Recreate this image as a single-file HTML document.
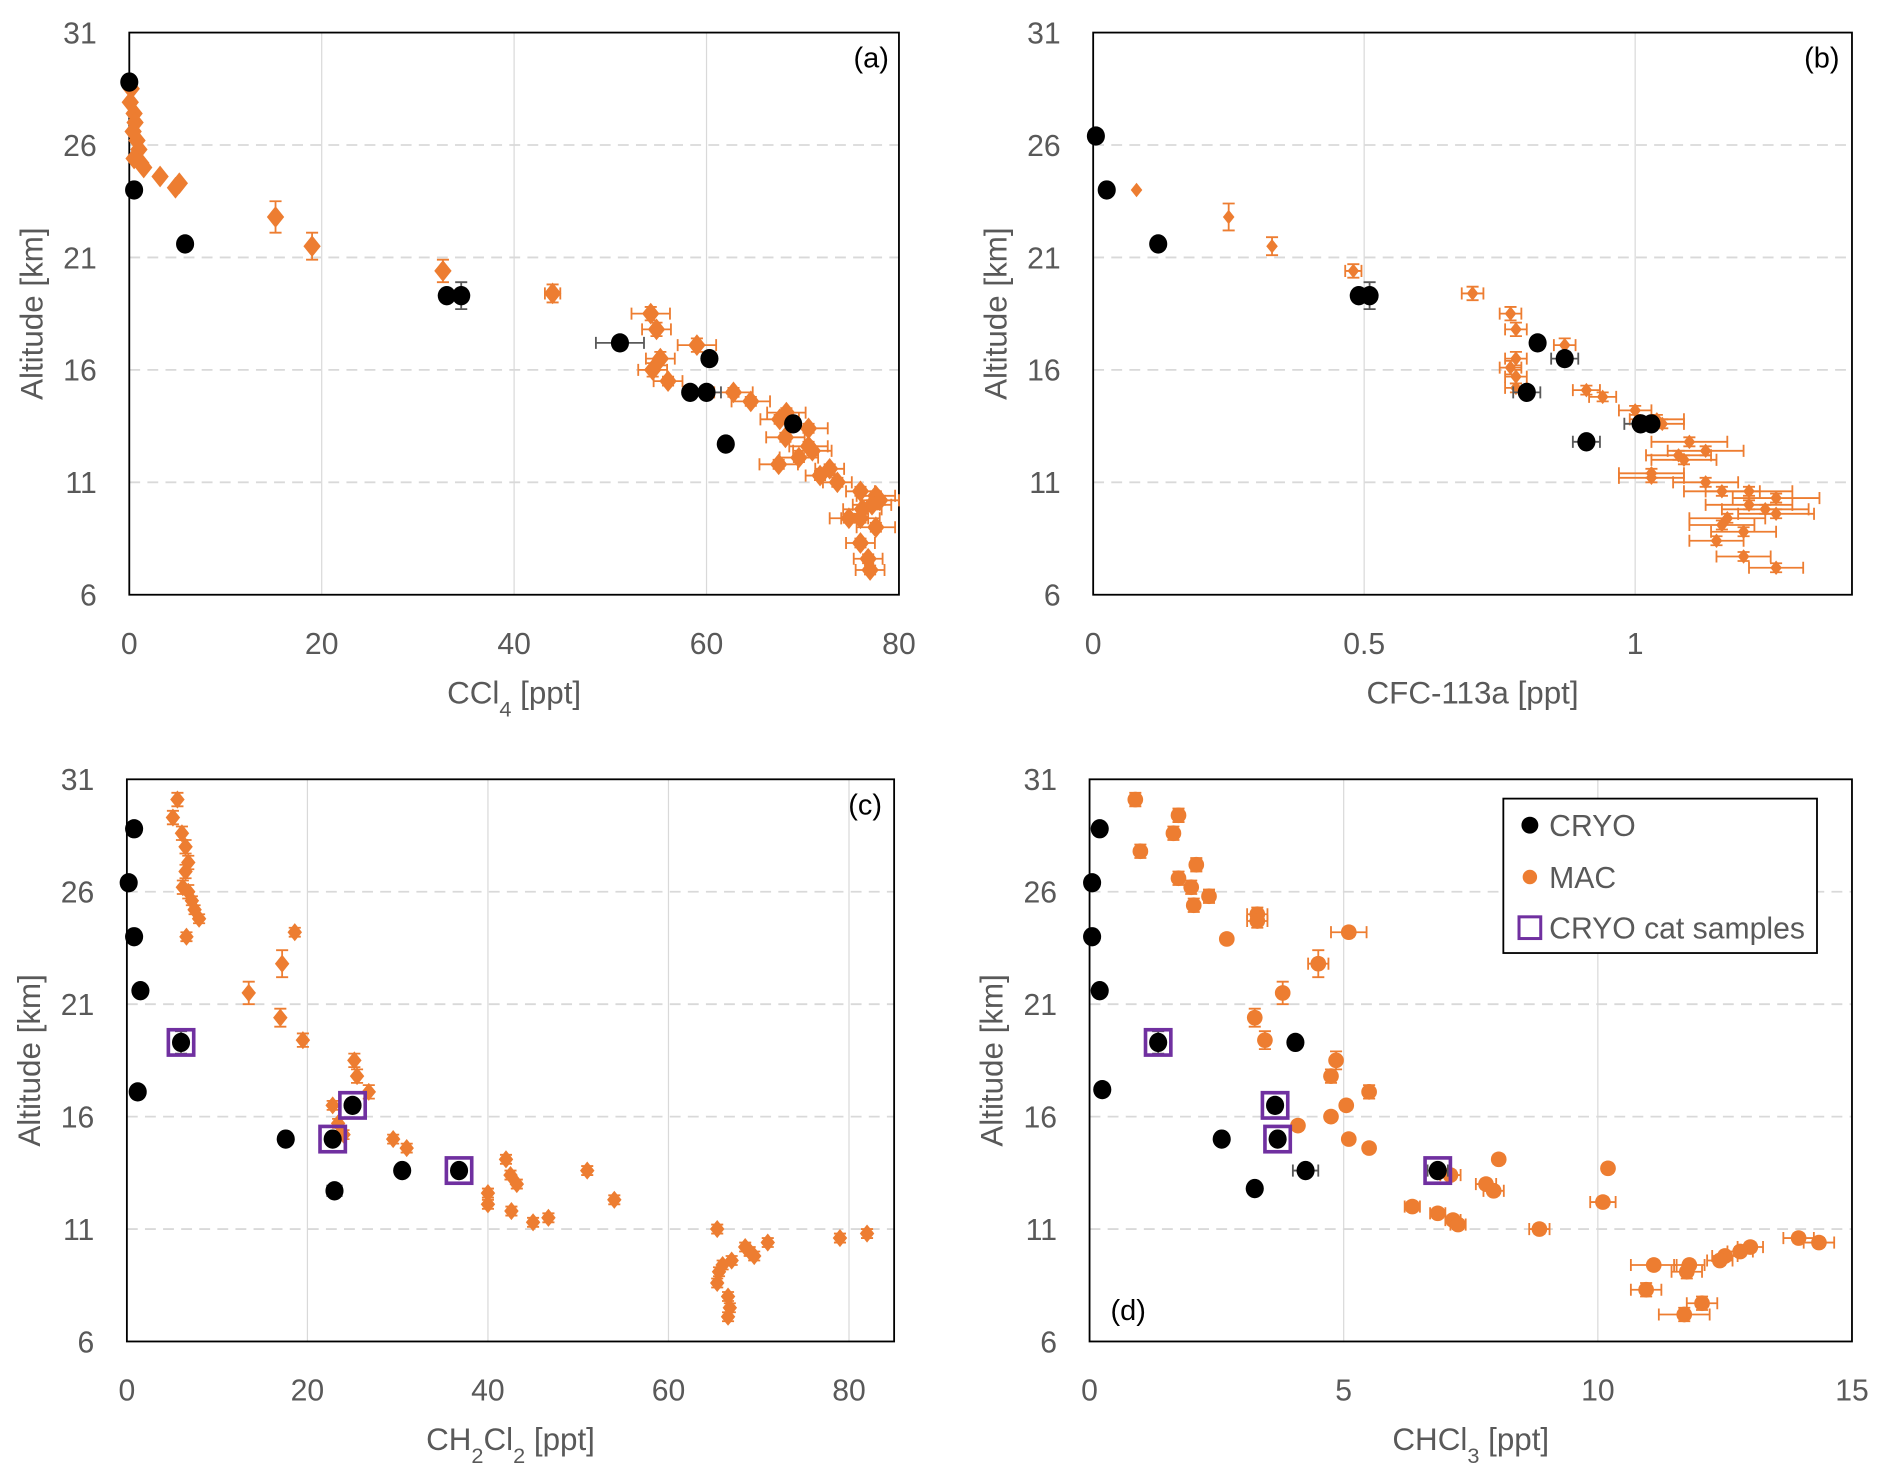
<!DOCTYPE html>
<html><head><meta charset="utf-8"><style>
html,body{margin:0;padding:0;background:#fff;}
svg{display:block;font-family:"Liberation Sans","DejaVu Sans",sans-serif;}
</style></head><body>
<svg id="fig" width="1892" height="1479" viewBox="0 0 1568 1226" xmlns="http://www.w3.org/2000/svg"></svg>
<script>
// ---------- DATA ----------
const yTicks = [6, 11, 16, 21, 26, 31];
const xTicksA = [0, 20, 40, 60, 80];
const xTicksB = [0, 0.5, 1];
const xTicksC = [0, 20, 40, 60, 80];
const xTicksD = [0, 5, 10, 15];
const xTickLabelsB = ["0", "0.5", "1"];

// Panel (a) CCl4
const cryoA_x = [0, 0.5, 5.8, 33, 34.5, 51, 60.3, 58.3, 60, 69, 62];
const cryoA_y = [28.8, 24, 21.6, 19.3, 19.3, 17.2, 16.5, 15, 15, 13.6, 12.7];
const cryoA_xe = [0, 0, 0, 0, 0, 2.5, 0, 0, 1.5, 0, 0];
const cryoA_ye = [0, 0, 0, 0, 0.6, 0, 0, 0, 0, 0, 0];
const macA_x = [0.2,0.1,0.5,0.6,0.4,0.8,1,0.5,1.2,1.5,3.2,4.8,5.2,15.2,19,32.6,44,54.2,54.8,59,55.2,54.4,56,62.8,64.6,68.3,67.6,70.6,68.2,70.6,71,69.6,67.5,72.8,71.8,73.6,76,77.6,78,77.2,76.2,76,74.8,77.6,76,76.8,77];
const macA_y = [28.5,27.9,27.4,27,26.6,26.2,25.8,25.4,25.2,25,24.6,24.1,24.3,22.8,21.5,20.4,19.4,18.5,17.8,17.1,16.5,16,15.5,15,14.6,14.1,13.8,13.4,13,12.6,12.4,12.1,11.8,11.6,11.3,11,10.6,10.4,10.2,10,9.8,9.4,9.4,9,8.3,7.6,7.1];
const macA_xe = [0,0,0,0,0,0,0,0,0,0,0,0,0,0,0,0,0.8,2,1.5,2,1.5,1.5,1.5,2,2,2,2,2,2,2,2,2,2,1.5,1.5,1.5,1.5,2,2,2,2,2,2,2,1.5,1.5,1.5];
const macA_ye = [0,0,0,0,0,0,0,0,0,0,0,0,0,0.7,0.6,0.5,0.4,0.3,0.3,0.3,0.3,0.3,0.2,0.2,0.2,0.2,0.2,0.2,0.2,0.2,0.2,0.2,0.2,0.2,0.2,0.2,0.2,0.2,0.2,0.2,0.2,0.2,0.2,0.2,0.2,0.2,0.2];

// Panel (b) CFC-113a
const cryoB_x = [0.005, 0.025, 0.12, 0.49, 0.51, 0.82, 0.87, 0.8, 0.91, 1.01, 1.03];
const cryoB_y = [26.4, 24, 21.6, 19.3, 19.3, 17.2, 16.5, 15, 12.8, 13.6, 13.6];
const cryoB_xe = [0, 0, 0, 0, 0, 0, 0.025, 0.025, 0.025, 0.03, 0];
const cryoB_ye = [0, 0, 0, 0, 0.6, 0, 0, 0, 0, 0, 0];
const macB_x = [0.08,0.25,0.33,0.48,0.7,0.77,0.78,0.87,0.78,0.77,0.78,0.78,0.91,0.94,1,1.05,1.04,1.1,1.13,1.08,1.09,1.03,1.03,1.13,1.16,1.21,1.26,1.21,1.24,1.26,1.17,1.16,1.2,1.15,1.2,1.26];
const macB_y = [24,22.8,21.5,20.4,19.4,18.5,17.8,17.1,16.5,16.1,15.7,15.2,15.1,14.8,14.2,13.6,13.8,12.8,12.4,12.2,12,11.4,11.2,11,10.6,10.6,10.3,10,9.8,9.6,9.4,9.1,8.8,8.4,7.7,7.2];
const macB_xe = [0,0,0,0.015,0.02,0.02,0.02,0.02,0.02,0.02,0.02,0.02,0.025,0.025,0.03,0.04,0.05,0.07,0.07,0.06,0.06,0.06,0.06,0.06,0.07,0.08,0.08,0.08,0.08,0.07,0.07,0.06,0.06,0.05,0.05,0.05];
const macB_ye = [0,0.6,0.4,0.3,0.3,0.3,0.3,0.3,0.3,0.3,0.3,0.2,0.2,0.2,0.2,0.2,0.2,0.2,0.2,0.2,0.2,0.2,0.2,0.2,0.2,0.2,0.2,0.2,0.2,0.2,0.2,0.2,0.2,0.2,0.2,0.2];

// Panel (c) CH2Cl2
const cryoC_x = [0.8, 0.2, 0.8, 1.5, 1.2, 17.6, 23, 30.5, 6, 25, 22.8, 36.8];
const cryoC_y = [28.8, 26.4, 24, 21.6, 17.1, 15, 12.7, 13.6, 19.3, 16.5, 15, 13.6];
const cryoC_xe = [0, 0, 0, 0, 0, 0, 0.8, 0, 0, 0, 0, 0];
const cryoC_ye = [0.3, 0, 0, 0, 0, 0, 0, 0, 0.5, 0, 0, 0];
const catC_x = [6, 25, 22.8, 36.8];
const catC_y = [19.3, 16.5, 15, 13.6];
const macC_x = [5.6,5.1,6.1,6.5,6.8,6.5,6.2,6.8,7.2,7.5,8,6.6,18.6,17.2,13.5,17,19.5,25.2,25.5,26.8,22.8,23.4,24,29.5,31,42,42.5,43.2,51,40,54,40,42.6,46.7,45,65.4,82,79,71,68.5,69,69.5,67,66,65.6,65.4,66.6,66.8,66.6];
const macC_y = [30.1,29.3,28.6,28,27.3,26.9,26.2,26,25.6,25.2,24.8,24,24.2,22.8,21.5,20.4,19.4,18.5,17.8,17.1,16.5,15.7,15.2,15,14.6,14.1,13.4,13,13.6,12.6,12.3,12.1,11.8,11.5,11.3,11,10.8,10.6,10.4,10.2,10,9.8,9.6,9.4,9.1,8.6,8,7.5,7.1];
const macC_ye = [0.3,0.3,0.3,0.3,0.3,0.3,0.3,0.3,0.2,0.2,0.2,0.2,0.2,0.6,0.5,0.4,0.3,0.3,0.3,0.3,0.2,0.2,0.2,0.2,0.2,0.2,0.2,0.2,0.2,0.2,0.2,0.2,0.2,0.2,0.2,0.2,0.2,0.2,0.2,0.2,0.2,0.2,0.2,0.2,0.2,0.2,0.2,0.2,0.2];

// Panel (d) CHCl3
const cryoD_x = [0.2, 0.05, 0.05, 0.2, 0.25, 2.6, 3.25, 4.25, 4.05, 1.35, 3.65, 3.7, 6.85];
const cryoD_y = [28.8, 26.4, 24, 21.6, 17.2, 15, 12.8, 13.6, 19.3, 19.3, 16.5, 15, 13.6];
const cryoD_xe = [0, 0, 0, 0, 0, 0, 0.1, 0.25, 0, 0, 0, 0, 0.2];
const cryoD_ye = [0, 0, 0, 0, 0, 0, 0, 0, 0, 0.5, 0, 0, 0];
const catD_x = [1.35, 3.65, 3.7, 6.85];
const catD_y = [19.3, 16.5, 15, 13.6];
const macD_x = [0.9,1.75,1.65,1,2.1,1.75,2,2.35,2.05,3.3,3.3,5.1,2.7,4.5,3.8,3.25,3.45,4.85,4.75,5.5,5.05,4.75,4.1,5.1,5.5,8.05,10.2,7.1,7.8,7.95,10.1,6.35,6.85,7.15,7.25,8.85,13.95,14.35,13,12.8,12.5,12.4,11.1,11.8,11.75,10.95,12.05,11.7];
const macD_y = [30.1,29.4,28.6,27.8,27.2,26.6,26.2,25.8,25.4,25,24.7,24.2,23.9,22.8,21.5,20.4,19.4,18.5,17.8,17.1,16.5,16,15.6,15,14.6,14.1,13.7,13.4,13,12.7,12.2,12,11.7,11.4,11.2,11,10.6,10.4,10.2,10,9.8,9.6,9.4,9.4,9.1,8.3,7.7,7.2];
const macD_xe = [0,0,0,0,0.1,0,0,0.1,0,0.2,0.2,0.35,0,0.2,0,0,0,0,0,0,0,0,0,0,0,0,0,0.2,0.2,0.2,0.25,0.15,0.15,0.15,0.15,0.2,0.3,0.3,0.25,0.25,0.25,0.25,0.45,0.3,0.3,0.3,0.3,0.5];
const macD_ye = [0.3,0.3,0.3,0.3,0.3,0.3,0.3,0.3,0.3,0.3,0.3,0.2,0.2,0.6,0.5,0.4,0.4,0.4,0.3,0.3,0.2,0.2,0.2,0.2,0.2,0.2,0.2,0.2,0.2,0.2,0.2,0.2,0.2,0.2,0.2,0.2,0.2,0.2,0.2,0.2,0.2,0.2,0.2,0.2,0.3,0.3,0.3,0.3];

// ---------- DRAW ----------
const NS = "http://www.w3.org/2000/svg";
const svg = document.getElementById("fig");
const ORANGE = "#ED7D31", PURPLE = "#7030A0", GREY = "#595959";
function mk(tag, attrs, parent) {
  const e = document.createElementNS(NS, tag);
  for (const k in attrs) e.setAttribute(k, attrs[k]);
  (parent || svg).appendChild(e);
  return e;
}
function panel(p) {
  const g = mk("g", {});
  
  
  const sx = v => p.L + (v - p.xmin) / (p.xmax - p.xmin) * (p.R - p.L);
  const sy = v => p.B - (v - 6) / 25 * (p.B - p.T);
  p.xticks.forEach((t, i) => {
    if (t > p.xmin && t < p.xmax) {
      const l = mk("line", {x1: sx(t), x2: sx(t), y1: p.T, y2: p.B, stroke: "#d9d9d9", "stroke-width": 1}, g);
      
      
    }
    const tx = mk("text", {x: sx(t), y: p.B + 49, "text-anchor": "middle", "font-size": 25, fill: GREY}, g);
    tx.textContent = p.xlabels ? p.xlabels[i] : String(t);
    
    
  });
  yTicks.forEach(t => {
    if (t > 6 && t < 31) {
      const l = mk("line", {x1: p.L, x2: p.R, y1: sy(t), y2: sy(t), stroke: "#d9d9d9", "stroke-width": 1.5, "stroke-dasharray": "9,6"}, g);
      
      
    }
    const tx = mk("text", {x: p.L - 27, y: sy(t) + 9, "text-anchor": "end", "font-size": 25, fill: GREY}, g);
    tx.textContent = String(t);
    
    
  });
  const fr = mk("rect", {x: p.L, y: p.T, width: p.R - p.L, height: p.B - p.T, fill: "none", stroke: "#000", "stroke-width": 1.5}, g);
  
  
  const yt = mk("text", {x: 0, y: 0, transform: `translate(${p.L - 72},${(p.T + p.B) / 2}) rotate(-90)`, "text-anchor": "middle", "font-size": 26, fill: GREY}, g);
  yt.textContent = "Altitude [km]";
  
  
  const xt = mk("text", {x: (p.L + p.R) / 2, y: p.B + 90, "text-anchor": "middle", "font-size": 26, fill: GREY}, g);
  xt.innerHTML = p.xtitle;
  
  
  const pl = mk("text", {x: p.lx, y: p.ly, "text-anchor": "middle", "font-size": 24, fill: "#000"}, g);
  pl.textContent = "(" + p.id + ")";
  
  

  function errbars(xs, ys, xe, ye, col) {
    xs.forEach((x, i) => {
      const cx = sx(x), cy = sy(ys[i]);
      if (xe && xe[i] > 0) {
        const a = sx(x - xe[i]), b = sx(x + xe[i]);
        const e = mk("path", {d: `M${a},${cy}H${b}M${a},${cy - 5}V${cy + 5}M${b},${cy - 5}V${cy + 5}`, stroke: col, "stroke-width": 1.5, fill: "none"}, g);
        
        
      }
      if (ye && ye[i] > 0) {
        const a = sy(ys[i] - ye[i]), b = sy(ys[i] + ye[i]);
        const e = mk("path", {d: `M${cx},${a}V${b}M${cx - 5},${a}H${cx + 5}M${cx - 5},${b}H${cx + 5}`, stroke: col, "stroke-width": 1.5, fill: "none"}, g);
        
        
      }
    });
  }
  errbars(p.mx, p.my, p.mxe, p.mye, ORANGE);
  p.mx.forEach((x, i) => {
    const cx = sx(x), cy = sy(p.my[i]);
    let m;
    if (p.mshape === "circle") m = mk("circle", {cx, cy, r: p.ms, fill: ORANGE}, g);
    else m = mk("path", {d: `M${cx},${cy - p.ms}L${cx + p.ms * 0.8},${cy}L${cx},${cy + p.ms}L${cx - p.ms * 0.8},${cy}Z`, fill: ORANGE}, g);
    
    
  });
  errbars(p.cx, p.cy, p.cxe, p.cye, GREY);
  p.cx.forEach((x, i) => {
    const m = mk("ellipse", {cx: sx(x), cy: sy(p.cy[i]), rx: 7.5, ry: 8, fill: "#000"}, g);
    
    
  });
  if (p.kx) p.kx.forEach((x, i) => {
    const m = mk("rect", {x: sx(x) - 10.5, y: sy(p.ky[i]) - 10.5, width: 21, height: 21, fill: "none", stroke: PURPLE, "stroke-width": 3}, g);
    
    
  });
}

panel({id: "a", L: 107, R: 745, T: 27, B: 493, xmin: 0, xmax: 80, xticks: xTicksA, xtitle: 'CCl<tspan baseline-shift="sub" font-size="18">4</tspan><tspan> [ppt]</tspan>', lx: 722, ly: 56,
  cx: cryoA_x, cy: cryoA_y, cxe: cryoA_xe, cye: cryoA_ye, mx: macA_x, my: macA_y, mxe: macA_xe, mye: macA_ye, mshape: "diamond", ms: 9});
panel({id: "b", L: 906, R: 1535, T: 27, B: 493, xmin: 0, xmax: 1.4, xticks: xTicksB, xlabels: xTickLabelsB, xtitle: 'CFC-113a [ppt]', lx: 1510, ly: 56,
  cx: cryoB_x, cy: cryoB_y, cxe: cryoB_xe, cye: cryoB_ye, mx: macB_x, my: macB_y, mxe: macB_xe, mye: macB_ye, mshape: "diamond", ms: 6});
panel({id: "c", L: 105, R: 741, T: 646, B: 1112, xmin: 0, xmax: 85, xticks: xTicksC, xtitle: 'CH<tspan baseline-shift="sub" font-size="18">2</tspan><tspan baseline-shift="0">Cl</tspan><tspan baseline-shift="sub" font-size="18">2</tspan><tspan> [ppt]</tspan>', lx: 717, ly: 675,
  cx: cryoC_x, cy: cryoC_y, cxe: cryoC_xe, cye: cryoC_ye, kx: catC_x, ky: catC_y, mx: macC_x, my: macC_y, mxe: null, mye: macC_ye, mshape: "diamond", ms: 7.5});
panel({id: "d", L: 903, R: 1535, T: 646, B: 1112, xmin: 0, xmax: 15, xticks: xTicksD, xtitle: 'CHCl<tspan baseline-shift="sub" font-size="18">3</tspan><tspan> [ppt]</tspan>', lx: 935, ly: 1094,
  cx: cryoD_x, cy: cryoD_y, cxe: cryoD_xe, cye: cryoD_ye, kx: catD_x, ky: catD_y, mx: macD_x, my: macD_y, mxe: macD_xe, mye: macD_ye, mshape: "circle", ms: 6.5});

const lg = mk("g", {});


mk("rect", {x: 1246, y: 662, width: 260, height: 128, fill: "#fff", stroke: "#000", "stroke-width": 1.5}, lg);
const e1 = mk("circle", {cx: 1268, cy: 684, r: 7, fill: "#000"}, lg);


const e2 = mk("circle", {cx: 1268, cy: 727, r: 6, fill: ORANGE}, lg);


const e3 = mk("rect", {x: 1259, y: 760, width: 18, height: 18, fill: "none", stroke: PURPLE, "stroke-width": 2.5}, lg);


[["CRYO", 693], ["MAC", 736], ["CRYO cat samples", 778]].forEach(([t, y]) => {
  const tx = mk("text", {x: 1284, y, "font-size": 25, fill: GREY}, lg);
  tx.textContent = t;
  
  
});
</script>
</body></html>
